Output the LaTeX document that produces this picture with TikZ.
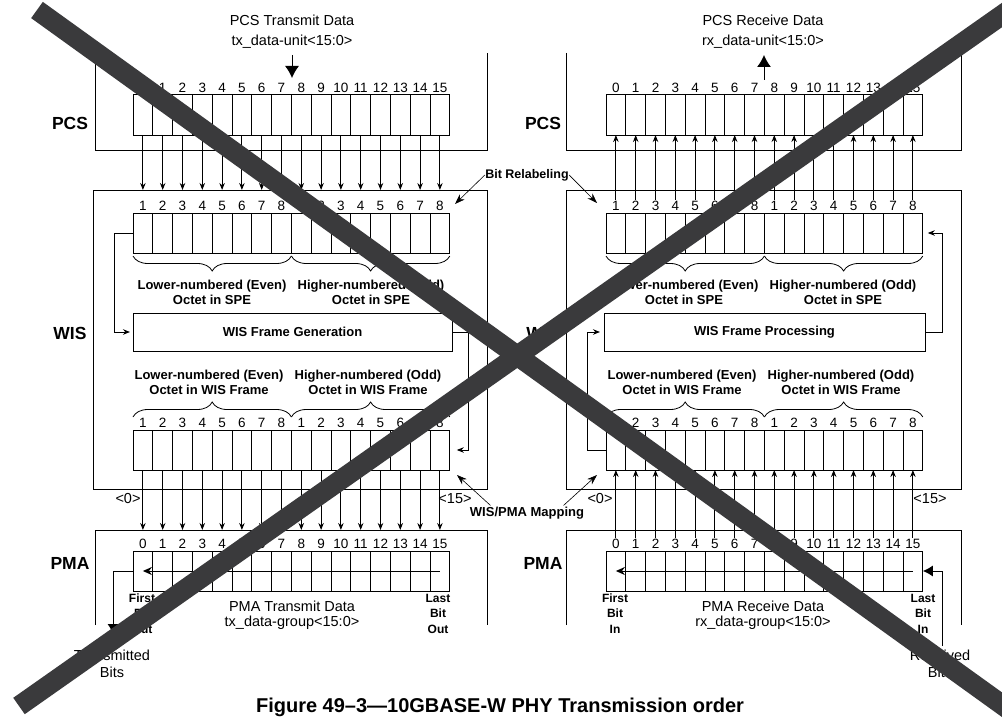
\documentclass[tikz,border=0pt]{standalone}
\usepackage{fontspec}
\setmainfont{Liberation Sans}
\usetikzlibrary{arrows.meta,calc,decorations.pathreplacing}
\definecolor{xgray}{RGB}{58,58,60}
\newcommand\mkreg[4]{%
  \foreach \lab [count=\k from 0] in {#4}{%
    \node[cell, anchor=north west] (#1-\k) at ({#2+19.8*\k},#3) {};
    \node[num, anchor=base] (#1-n\k) at ($(#1-\k.north)+(0,-2.5)$) {\lab};
  }}
\begin{document}
\begin{tikzpicture}[x=1pt,y=-1pt,line width=1pt,
  cell/.style={draw, minimum width=19.8pt, minimum height=40pt, inner sep=0pt, outer sep=0pt},
  num/.style={font=\fontsize{13.5}{15}\selectfont, inner sep=1pt},
  lab/.style={font=\fontsize{14.5}{20}\selectfont, align=center, inner sep=0pt},
  labt/.style={font=\fontsize{14.5}{15}\selectfont, align=center, inner sep=0pt},
  labb/.style={font=\fontsize{14.5}{17}\selectfont, align=center, inner sep=0pt},
  blab/.style={font=\bfseries\fontsize{13}{15}\selectfont, align=center, inner sep=0pt},
  sblab/.style={font=\bfseries\fontsize{12}{15.5}\selectfont, align=center, inner sep=0pt},
  layer/.style={font=\bfseries\fontsize{17.5}{20}\selectfont, inner sep=0pt},
  arr/.style={-{Stealth[length=7pt,width=5.5pt]}},
  arrin/.style={-{Stealth[length=9pt,width=8pt]}},
  bigarr/.style={-{Latex[length=12pt,width=14pt]}},
  midarr/.style={-{Latex[length=10pt,width=11pt]}},
  lead/.style={line width=0.6pt, -{Stealth[length=10pt,width=7pt]}},
  brc/.style={decorate, decoration={brace, amplitude=15pt}, line width=0.8pt},
  box/.style={draw, inner sep=0pt, outer sep=0pt},
  xstroke/.style={line width=20pt, draw=xgray},
]
\useasboundingbox (0,0) rectangle (1002,717);
\fill[white] (0,0) rectangle (1002,717);
\clip (0,0) rectangle (1002,717);

% ---------- layer outlines ----------
\draw (95,53) -- (95,150) -- (487,150) -- (487,53);
\draw (566,53) -- (566,150) -- (961,150) -- (961,53);
\node[box, minimum width=394pt, minimum height=299pt, anchor=north west] (wisL) at (93,190) {};
\node[box, minimum width=395pt, minimum height=299pt, anchor=north west] (wisR) at (566,190) {};
\draw (95,625) -- (95,530) -- (487,530) -- (487,625);
\draw (566,625) -- (566,530) -- (961,530) -- (961,625);
\coordinate (pmaLtop) at (95,530);
\coordinate (pmaRtop) at (566,530);

% ---------- layer labels ----------
\node[layer] (lpcsL) at (70,123) {PCS};
\node[layer] (lwisL) at (70,333) {WIS};
\node[layer] (lpmaL) at (70,563) {PMA};
\node[layer] (lpcsR) at (543,123) {PCS};
\node[layer] (lwisR) at (543,333) {WIS};
\node[layer] (lpmaR) at (543,563) {PMA};

% ---------- registers ----------
\mkreg{pcsL}{133}{95}{0,...,15}
\mkreg{wisLt}{133}{213}{1,2,3,4,5,6,7,8,1,2,3,4,5,6,7,8}
\mkreg{wisLb}{133}{430}{1,2,3,4,5,6,7,8,1,2,3,4,5,6,7,8}
\mkreg{pmaL}{133}{551}{0,...,15}
\mkreg{pcsR}{606}{95}{0,...,15}
\mkreg{wisRt}{606}{213}{1,2,3,4,5,6,7,8,1,2,3,4,5,6,7,8}
\mkreg{wisRb}{606}{430}{1,2,3,4,5,6,7,8,1,2,3,4,5,6,7,8}
\mkreg{pmaR}{606}{551}{0,...,15}

% ---------- bit arrows ----------
\foreach \k in {0,...,15}{
  \draw[arr] (pcsL-\k.south) -- (pcsL-\k.south |- wisL.north);
  \draw[arr] (wisLb-\k.south) -- (wisLb-\k.south |- pmaLtop);
  \draw[arr] (wisRt-n\k.north) -- (pcsR-\k.south);
  \draw[arr] (pmaR-n\k.north) -- (wisRb-\k.south);
}

% ---------- top data labels and arrows ----------
\node[lab] (pcsTx) at (292,32) {PCS Transmit Data\\tx\_data-unit<15:0>};
\node[lab] (pcsRx) at (763,32) {PCS Receive Data\\rx\_data-unit<15:0>};
\coordinate (txA) at (292,55); \coordinate (txB) at (292,78);
\coordinate (rxA) at (764,55); \coordinate (rxB) at (764,80);
\draw[bigarr] (txA) -- (txB);
\draw[bigarr] (rxB) -- (rxA);

% ---------- braces and octet labels ----------
\draw[brc] ($(wisLt-7.south east)+(0,3)$) -- ($(wisLt-0.south west)+(0,3)$);
\draw[brc] ($(wisLt-15.south east)+(0,3)$) -- ($(wisLt-8.south west)+(0,3)$);
\draw[brc] ($(wisRt-7.south east)+(0,3)$) -- ($(wisRt-0.south west)+(0,3)$);
\draw[brc] ($(wisRt-15.south east)+(0,3)$) -- ($(wisRt-8.south west)+(0,3)$);
\draw[brc] ($(wisLb-0.north west)+(0,-13)$) -- ($(wisLb-7.north east)+(0,-13)$);
\draw[brc] ($(wisLb-8.north west)+(0,-13)$) -- ($(wisLb-15.north east)+(0,-13)$);
\draw[brc] ($(wisRb-0.north west)+(0,-13)$) -- ($(wisRb-7.north east)+(0,-13)$);
\draw[brc] ($(wisRb-8.north west)+(0,-13)$) -- ($(wisRb-15.north east)+(0,-13)$);

\node[blab] (oLt1) at (212,292.5) {Lower-numbered (Even)\\Octet in SPE};
\node[blab] (oLt2) at (371,292.5) {Higher-numbered (Odd)\\Octet in SPE};
\node[blab] (oRt1) at (684,292.5) {Lower-numbered (Even)\\Octet in SPE};
\node[blab] (oRt2) at (843,292.5) {Higher-numbered (Odd)\\Octet in SPE};
\node[blab] (oLb1) at (209,382.5) {Lower-numbered (Even)\\Octet in WIS Frame};
\node[blab] (oLb2) at (368,382.5) {Higher-numbered (Odd)\\Octet in WIS Frame};
\node[blab] (oRb1) at (682,382.5) {Lower-numbered (Even)\\Octet in WIS Frame};
\node[blab] (oRb2) at (841,382.5) {Higher-numbered (Odd)\\Octet in WIS Frame};

% ---------- frame boxes ----------
\node[box, blab, minimum width=319pt, minimum height=38pt] (genL) at (292.5,332) {WIS Frame Generation};
\node[box, blab, minimum width=321pt, minimum height=38pt] (procR) at (764.5,332) {WIS Frame Processing};

\draw[arr, shorten >=3pt] (wisLt-0.west) -- ++(-19,0) |- (genL.west);
\draw[arr, shorten >=7pt] (genL.east) -- ++(16,0) |- (wisLb-15.east);
\draw[arr, shorten >=5pt] (procR.east) -- ++(17,0) |- (wisRt-15.east);
\draw[arr, shorten >=4pt] (wisRb-0.west) -- ++(-19,0) |- (procR.west);

% ---------- index labels ----------
\node[lab] (i0L) at (128,499) {<0>};
\node[lab] (i15L) at (455,499) {<15>};
\node[lab] (i0R) at (600,499) {<0>};
\node[lab] (i15R) at (930,499) {<15>};

% ---------- leaders ----------
\node[sblab, font=\bfseries\fontsize{12.5}{15}\selectfont] (bitrel) at (527,175) {Bit Relabeling};
\coordinate (brL) at (455,204); \coordinate (brR) at (597,203);
\draw[lead] (bitrel.west) -- (brL);
\draw[lead] (bitrel.east) -- (brR);
\node[blab] (wpm) at (527,513) {WIS/PMA Mapping};
\coordinate (wmL) at (457,475); \coordinate (wmR) at (597,475);
\draw[lead] ($(wpm.north west)+(21,-1)$) -- (wmL);
\draw[lead] ($(wpm.north east)+(-21,-1)$) -- (wmR);

% ---------- PMA ----------
\draw[arrin] (pmaL-15.center) -- (pmaL-0.center);
\draw[arrin] (pmaR-15.center) -- (pmaR-0.center);
\coordinate (txout) at (113,634);
\draw[midarr] (pmaL-0.west) -| (txout);
\coordinate (rxin) at (942,646);
\draw[midarr] (rxin) |- (pmaR-15.east);

\node[sblab] (fbo) at (142,613.5) {First\\Bit\\Out};
\node[sblab] (lbo) at (438,613.5) {Last\\Bit\\Out};
\node[sblab] (fbi) at (615,613.5) {First\\Bit\\In};
\node[sblab] (lbi) at (923,613.5) {Last\\Bit\\In};
\node[labt] (pmaTx) at (292,615.5) {PMA Transmit Data\\tx\_data-group<15:0>};
\node[labt] (pmaRx) at (763,615.5) {PMA Receive Data\\rx\_data-group<15:0>};
\node[labb] (tbits) at (112,663.5) {Transmitted\\Bits};
\node[labb] (rbits) at (940,663.5) {Received\\Bits};

% ---------- caption ----------
\node[font=\bfseries\fontsize{20}{24}\selectfont, anchor=base, inner sep=0pt] (cap) at (500,712.5) {Figure 49–3—10GBASE-W PHY Transmission order};

% ---------- cross-out ----------
\draw[xstroke] (37,10) -- (1026,722);
\draw[xstroke] (1012,8) -- (19,706);
\end{tikzpicture}
\end{document}
